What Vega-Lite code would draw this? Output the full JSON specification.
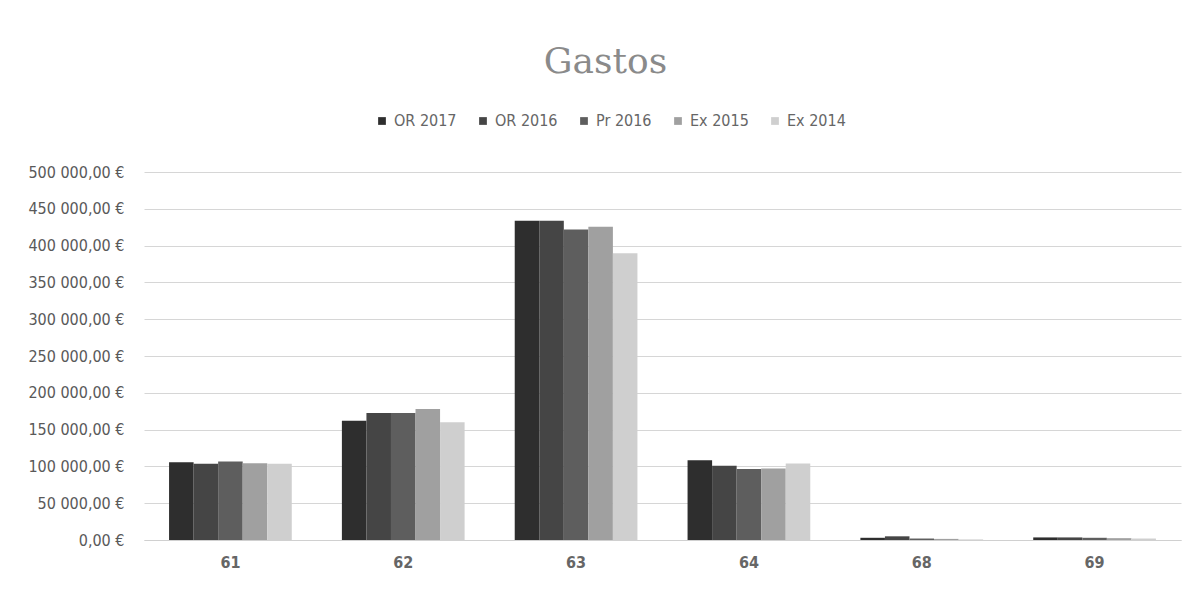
{
  "$schema": "https://vega.github.io/schema/vega-lite/v6.json",
  "autosize": {"type": "none"},
  "width": 1037,
  "height": 368,
  "padding": {"left": 144, "top": 172, "right": 13, "bottom": 52},
  "background": "white",
  "title": {
    "text": "Gastos",
    "font": "DejaVu Serif",
    "fontSize": 36,
    "fontWeight": "normal",
    "color": "#8a8a8a",
    "anchor": "middle",
    "offset": 32,
    "dx": -57
  },
  "data": {
    "values": [
      {"cat": "61", "serie": "OR 2017", "valor": 105800},
      {"cat": "61", "serie": "OR 2016", "valor": 103600},
      {"cat": "61", "serie": "Pr 2016", "valor": 106700},
      {"cat": "61", "serie": "Ex 2015", "valor": 104400},
      {"cat": "61", "serie": "Ex 2014", "valor": 103600},
      {"cat": "62", "serie": "OR 2017", "valor": 162100},
      {"cat": "62", "serie": "OR 2016", "valor": 172500},
      {"cat": "62", "serie": "Pr 2016", "valor": 172500},
      {"cat": "62", "serie": "Ex 2015", "valor": 177900},
      {"cat": "62", "serie": "Ex 2014", "valor": 159900},
      {"cat": "63", "serie": "OR 2017", "valor": 433700},
      {"cat": "63", "serie": "OR 2016", "valor": 433700},
      {"cat": "63", "serie": "Pr 2016", "valor": 421900},
      {"cat": "63", "serie": "Ex 2015", "valor": 425600},
      {"cat": "63", "serie": "Ex 2014", "valor": 389500},
      {"cat": "64", "serie": "OR 2017", "valor": 108400},
      {"cat": "64", "serie": "OR 2016", "valor": 100900},
      {"cat": "64", "serie": "Pr 2016", "valor": 96400},
      {"cat": "64", "serie": "Ex 2015", "valor": 97300},
      {"cat": "64", "serie": "Ex 2014", "valor": 104000},
      {"cat": "68", "serie": "OR 2017", "valor": 3000},
      {"cat": "68", "serie": "OR 2016", "valor": 5000},
      {"cat": "68", "serie": "Pr 2016", "valor": 2000},
      {"cat": "68", "serie": "Ex 2015", "valor": 1500},
      {"cat": "68", "serie": "Ex 2014", "valor": 800},
      {"cat": "69", "serie": "OR 2017", "valor": 3500},
      {"cat": "69", "serie": "OR 2016", "valor": 3500},
      {"cat": "69", "serie": "Pr 2016", "valor": 3000},
      {"cat": "69", "serie": "Ex 2015", "valor": 2500},
      {"cat": "69", "serie": "Ex 2014", "valor": 2000}
    ]
  },
  "mark": {"type": "bar"},
  "encoding": {
    "x": {
      "field": "cat",
      "type": "nominal",
      "title": null,
      "scale": {"paddingInner": 0.29, "paddingOuter": 0.145},
      "axis": {
        "labelAngle": 0,
        "labelFont": "'DejaVu Sans Condensed', 'DejaVu Sans', sans-serif",
        "labelFontSize": 16,
        "labelFontWeight": "bold",
        "labelColor": "#666666",
        "labelPadding": 14,
        "ticks": false,
        "domainColor": "#d0d0d0",
        "domainWidth": 1
      }
    },
    "xOffset": {
      "field": "serie",
      "type": "nominal",
      "sort": ["OR 2017", "OR 2016", "Pr 2016", "Ex 2015", "Ex 2014"],
      "scale": {"paddingInner": 0}
    },
    "y": {
      "field": "valor",
      "type": "quantitative",
      "title": null,
      "scale": {"domain": [0, 500000]},
      "axis": {
        "values": [0, 50000, 100000, 150000, 200000, 250000, 300000, 350000, 400000, 450000, 500000],
        "format": "$,.2f",
        "labelFont": "'DejaVu Sans Condensed', 'DejaVu Sans', sans-serif",
        "labelFontSize": 16,
        "labelFontWeight": "normal",
        "labelColor": "#595959",
        "labelPadding": 20,
        "ticks": false,
        "domain": false,
        "gridColor": "#d6d6d6",
        "gridWidth": 1
      }
    },
    "color": {
      "field": "serie",
      "type": "nominal",
      "sort": ["OR 2017", "OR 2016", "Pr 2016", "Ex 2015", "Ex 2014"],
      "scale": {
        "domain": ["OR 2017", "OR 2016", "Pr 2016", "Ex 2015", "Ex 2014"],
        "range": ["#2e2e2e", "#454545", "#5e5e5e", "#a0a0a0", "#cfcfcf"]
      },
      "legend": {
        "title": null,
        "orient": "none",
        "legendX": 230,
        "legendY": -59,
        "direction": "horizontal",
        "symbolType": "square",
        "symbolSize": 60,
        "labelFont": "'DejaVu Sans Condensed', 'DejaVu Sans', sans-serif",
        "labelFontSize": 16,
        "labelColor": "#666666",
        "columnPadding": 18,
        "labelOffset": 4
      }
    }
  },
  "config": {
    "view": {"stroke": null},
    "locale": {
      "number": {
        "decimal": ",",
        "thousands": " ",
        "grouping": [3],
        "currency": ["", " €"]
      }
    }
  }
}
